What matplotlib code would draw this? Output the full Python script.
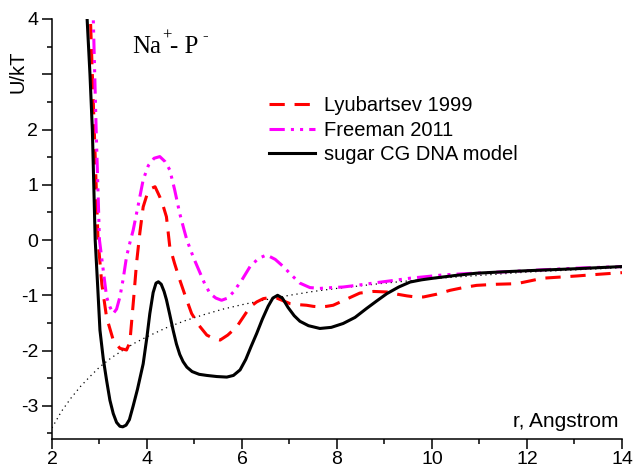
import numpy as np
import matplotlib
matplotlib.use("Agg")
import matplotlib.pyplot as plt
from matplotlib.ticker import MultipleLocator

plt.rcParams['font.family'] = ['Liberation Sans', 'DejaVu Sans']

FS = 14.5

# Lyubartsev 1999
r_lyu = [2.72, 2.81, 2.89, 2.97, 3.05, 3.15, 3.29, 3.43, 3.57, 3.64, 3.68, 3.73, 3.78, 3.85, 3.92,
         4.0, 4.08, 4.17, 4.27, 4.34, 4.41, 4.48, 4.58, 4.69, 4.81, 4.94, 5.1, 5.26, 5.4, 5.54,
         5.7, 5.89, 6.03, 6.17, 6.31, 6.45, 6.6, 6.73, 6.87, 7.01, 7.2, 7.36, 7.5, 7.64, 7.78,
         7.92, 8.2, 8.48, 8.77, 9.05, 9.27, 9.47, 9.65, 9.82, 10.1, 10.38, 10.66, 10.94, 11.36,
         11.78, 12.06, 12.34, 12.7, 13.05, 13.5, 14.0]
u_lyu = [5.0, 4.0, 2.0, 0.0, -0.8, -1.4, -1.81, -1.96, -1.99, -1.85, -1.45, -0.95, -0.42, 0.13, 0.6,
         0.82, 0.93, 0.965, 0.78, 0.62, 0.42, -0.12, -0.42, -0.72, -1.02, -1.33, -1.55, -1.72, -1.78, -1.81,
         -1.72, -1.57, -1.39, -1.21, -1.12, -1.06, -1.04, -1.05, -1.1, -1.15, -1.17, -1.18, -1.2, -1.21, -1.2,
         -1.18, -1.07, -0.96, -0.93, -0.94, -0.98, -1.01, -1.03, -1.03, -0.98, -0.91, -0.86, -0.82, -0.8,
         -0.79, -0.74, -0.69, -0.67, -0.65, -0.62, -0.59]

# Freeman 2011
r_fre = [2.8, 2.87, 2.93, 3.0, 3.08, 3.15, 3.22, 3.29, 3.36, 3.43, 3.5, 3.57, 3.64, 3.71, 3.82,
         3.92, 4.03, 4.15, 4.27, 4.38, 4.48, 4.58, 4.69, 4.77, 4.84, 4.98, 5.12, 5.22, 5.33, 5.45,
         5.57, 5.7, 5.82, 6.0, 6.17, 6.35, 6.52, 6.7, 6.87, 7.05, 7.22, 7.43, 7.64, 7.9, 8.13,
         8.5, 8.84, 9.2, 9.54, 9.9, 10.24, 10.9, 11.64, 12.3, 13.0, 14.0]
u_fre = [5.0, 4.0, 2.0, 0.0, -0.55, -1.03, -1.21, -1.33, -1.25, -1.03, -0.7, -0.3, -0.05, 0.18, 0.65,
         1.09, 1.35, 1.48, 1.51, 1.42, 1.27, 0.92, 0.48, 0.22, 0.0, -0.32, -0.6, -0.8, -0.97, -1.05,
         -1.09, -1.05, -0.94, -0.72, -0.48, -0.33, -0.27, -0.35, -0.48, -0.64, -0.78, -0.86, -0.875, -0.86, -0.85,
         -0.81, -0.77, -0.73, -0.69, -0.66, -0.63, -0.6, -0.57, -0.54, -0.51, -0.48]

# sugar CG DNA model
r_cg = [2.7, 2.74, 2.8, 2.85, 2.88, 2.91, 2.96, 3.01, 3.08, 3.15, 3.22, 3.29, 3.36, 3.43, 3.49,
        3.56, 3.63, 3.71, 3.8, 3.92, 4.0, 4.06, 4.13, 4.19, 4.24, 4.3, 4.36, 4.41, 4.48, 4.55,
        4.62, 4.69, 4.76, 4.84, 4.95, 5.1, 5.26, 5.47, 5.68, 5.82, 5.96, 6.08, 6.19, 6.31, 6.43,
        6.55, 6.65, 6.75, 6.85, 6.97, 7.1, 7.22, 7.4, 7.64, 7.88, 8.13, 8.38, 8.62, 8.84, 9.05,
        9.3, 9.54, 9.78, 10.03, 10.5, 10.94, 11.5, 12.0, 13.0, 14.0]
u_cg = [4.6, 4.0, 3.0, 2.0, 1.0, 0.0, -0.8, -1.63, -2.15, -2.54, -2.9, -3.14, -3.3, -3.37, -3.38,
        -3.35, -3.25, -3.0, -2.7, -2.24, -1.75, -1.33, -0.95, -0.78, -0.755, -0.8, -0.93, -1.08, -1.35, -1.63,
        -1.88, -2.07, -2.2, -2.3, -2.38, -2.43, -2.45, -2.47, -2.48, -2.45, -2.35, -2.16, -1.93, -1.69, -1.43,
        -1.2, -1.05, -1.0, -1.05, -1.22, -1.37, -1.47, -1.55, -1.6, -1.58, -1.51, -1.4, -1.24, -1.1, -0.97,
        -0.85, -0.76, -0.72, -0.69, -0.64, -0.6, -0.575, -0.555, -0.52, -0.48]

# dotted reference curve
r_ref = [2.0, 2.2, 2.4, 2.6, 2.8, 3.0, 3.25, 3.5, 3.75, 4.0, 4.4, 4.8, 5.2, 5.6, 6.0, 6.5,
         7.0, 7.5, 8.0, 9.0, 10.0, 11.0, 12.0, 13.0, 14.0]
u_ref = [-3.4, -3.1, -2.86, -2.65, -2.47, -2.3, -2.13, -1.99, -1.86, -1.75, -1.59, -1.46, -1.35, -1.25,
         -1.17, -1.08, -1.0, -0.93, -0.875, -0.78, -0.7, -0.64, -0.58, -0.54, -0.5]

fig = plt.figure(figsize=(6.33, 4.69), dpi=100)
ax = fig.add_axes([0.0821, 0.064, 0.9005, 0.8955])

ax.plot(r_ref, u_ref, color="black", lw=0.9, linestyle=(0, (1, 3)))
l1, = ax.plot(r_lyu, u_lyu, color="#ff0000", lw=2.2, dashes=(5, 3.2), label="Lyubartsev 1999")
l2, = ax.plot(r_fre, u_fre, color="#ff00ff", lw=2.2, dashes=(5, 2, 1, 2, 1, 2), label="Freeman 2011")
l3, = ax.plot(r_cg, u_cg, color="black", lw=2.2, label="sugar CG DNA model")

ax.set_xlim(2, 14)
ax.set_ylim(-3.6, 4)
ax.xaxis.set_major_locator(MultipleLocator(2))
ax.xaxis.set_minor_locator(MultipleLocator(1))
ax.yaxis.set_minor_locator(MultipleLocator(0.5))
ax.set_yticks([-3, -2, -1, 0, 1, 2, 3, 4])
ax.set_yticklabels(["-3", "-2", "-1", "0", "1", "2", "", "4"])
for s in ["top", "right"]:
    ax.spines[s].set_visible(False)
for s in ["left", "bottom"]:
    ax.spines[s].set_linewidth(1.1)
ax.tick_params(which="major", direction="out", length=7, width=1.1, labelsize=14, pad=3)
ax.tick_params(axis="x", which="major", pad=1.5)
ax.tick_params(which="minor", direction="out", length=3.6, width=1.1)

fig.text(0.028, (469 - 72) / 469, "U/kT", rotation=90, ha="center", va="center", fontsize=FS)
ax.text(13.93, -3.38, "r, Angstrom", ha="right", va="baseline", fontsize=FS + 0.5)

# ion pair label, superscripts placed by hand so they sit high
lbl = dict(family="Liberation Serif", va="baseline")
ax.text(3.68, 3.39, "Na", fontsize=18, **lbl)
ax.text(4.31, 3.62, "+", fontsize=12, **lbl)
ax.text(4.48, 3.39, "- P", fontsize=18, **lbl)
ax.text(5.17, 3.62, "-", fontsize=12, **lbl)

ax.legend(handles=[l1, l2, l3], loc="upper left", bbox_to_anchor=(0.367, 0.835),
          frameon=False, fontsize=FS, handlelength=2.25, handletextpad=0.45,
          labelspacing=0.27, borderaxespad=0)

fig.savefig("out.png", dpi=100)
